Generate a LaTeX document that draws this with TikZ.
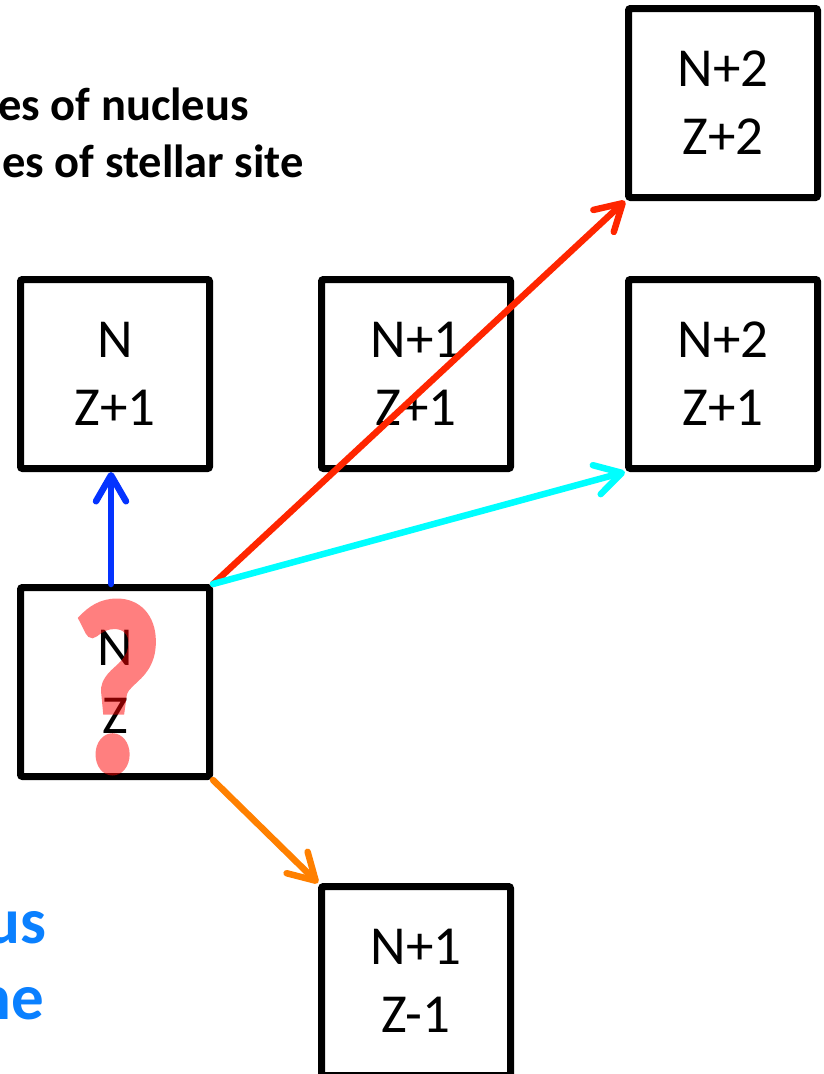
\documentclass[tikz,border=0pt]{standalone}
\usepackage{fontspec}
\usepackage{graphicx}
\setmainfont{Carlito}
\newfontfamily\qfont[FakeBold=2.5]{Carlito Bold}
\usetikzlibrary{arrows.meta}
\definecolor{redA}{HTML}{FF2600}
\definecolor{cyanA}{HTML}{00FFFF}
\definecolor{blueA}{HTML}{0433FF}
\definecolor{orangeA}{HTML}{FF8000}
\definecolor{blueT}{HTML}{0A80FF}
\tikzset{
  cell/.style={draw, line width=7pt, minimum width=189pt, minimum height=189pt,
    inner sep=0pt, align=center, rounded corners=2pt,
    font=\fontsize{55}{68}\selectfont},
  arr/.style={line width=6.5pt, line cap=round,
    -{Straight Barb[length=26pt,width=30pt,line cap=round,line join=round]}},
  toptext/.style={font=\bfseries\fontsize{46.5}{56}\selectfont, anchor=base east, inner sep=0pt},
  bluetext/.style={font=\bfseries\fontsize{65}{76}\selectfont, text=blueT, anchor=base east, inner sep=0pt},
}
\begin{document}
\begin{tikzpicture}[x=1pt,y=-1pt]
\clip (0,0) rectangle (823,1074);
\fill[white] (0,0) rectangle (823,1074);
\node[toptext] (t1) at (249,120) {es of nucleus};
\node[toptext] (t2) at (304,177) {es of stellar site};
\node[bluetext] (b1) at (47,943) {us};
\node[bluetext] (b2) at (44,1019) {ne};
\node[cell] (nz1) at (115,374) {N\\Z+1};
\node[cell] (n1z1) at (416,374) {N+1\\Z+1};
\node[cell] (n2z1) at (723,374) {N+2\\Z+1};
\node[cell] (n2z2) at (723,103) {N+2\\Z+2};
\node[cell] (nz) at (115,682) {N\\Z};
\node[cell] (n1zm) at (416,981) {N+1\\Z-1};
\draw[arr, blueA] ([xshift=-4pt]nz.north) -- ([xshift=-4pt]nz1.south);
\draw[arr, redA] (nz.north east) -- (n2z2.south west);
\draw[arr, cyanA] (nz.north east) -- (n2z1.south west);
\draw[arr, orangeA] (nz.south east) -- (n1zm.north west);
\begin{scope}[transparency group, opacity=0.5]
\node[font=\qfont\fontsize{245}{245}\selectfont, text=red, inner sep=0pt] (q) at (117,687) {\scalebox{0.8}[1]{?}};
\end{scope}
\end{tikzpicture}
\end{document}
